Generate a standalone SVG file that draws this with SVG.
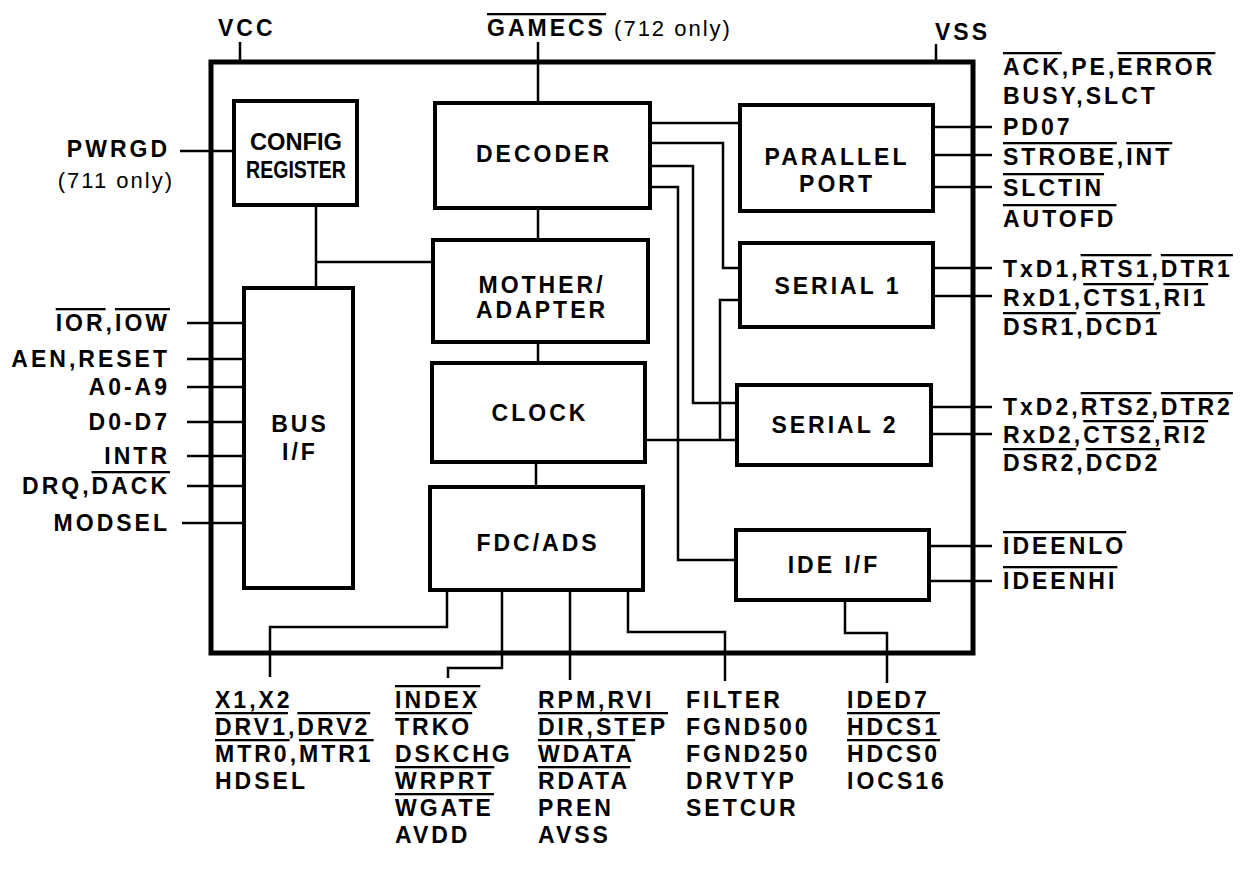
<svg xmlns="http://www.w3.org/2000/svg" width="1240" height="871" viewBox="0 0 1240 871">
<style>
.box{fill:none;stroke:#000;stroke-width:4}
.outer{fill:none;stroke:#000;stroke-width:5}
.w{fill:none;stroke:#000;stroke-width:2.5}
text{font-family:"Liberation Sans",Arial,Helvetica,sans-serif;font-weight:bold;font-size:23px;letter-spacing:3px;fill:#000}
.c{text-anchor:middle}
.e{text-anchor:end}
.n{font-weight:normal;font-size:22px;letter-spacing:2px}
.o{text-decoration:overline}
.k{letter-spacing:0}
</style>
<rect width="1240" height="871" fill="#fff"/>
<rect id="chip" class="outer" x="211" y="62" width="762" height="591"/>

<g id="connectors" class="w">
<path d="M538,42V103"/>
<path d="M240,42V62"/>
<path d="M936,44V62"/>
<path d="M180,151H234"/>
<path d="M187,323H244M187,359H244M187,387H244M187,422H244M187,456H244M187,486H244M182,523H244"/>
<path d="M316,205V288M316,262H433"/>
<path d="M538,208V240M538,342V363M536,462V487"/>
<path d="M650,123H740"/>
<path d="M650,143H723V268H740"/>
<path d="M650,166H693V403H737"/>
<path d="M650,187H678V560H736"/>
<path d="M645,440H737M720,440V300H740"/>
<path d="M933,127H992M933,155H992M933,187H992M933,268H992M933,296H992M931,407H992M931,434H992M929,546H992M929,581H992"/>
<path d="M447,590V627H270V677"/>
<path d="M502,590V668H448V678"/>
<path d="M570,590V680"/>
<path d="M628,590V632H725V681"/>
<path d="M845,600V633H887V683"/>
</g>

<g id="config">
<rect class="box" x="234" y="101" width="123" height="104"/>
<text class="c k" x="296" y="150" textLength="92" lengthAdjust="spacingAndGlyphs">CONFIG</text>
<text class="c k" x="296" y="178" textLength="100" lengthAdjust="spacingAndGlyphs">REGISTER</text>
</g>
<g id="decoder">
<rect class="box" x="435" y="103" width="215" height="105"/>
<text class="c" x="544" y="162">DECODER</text>
</g>
<g id="mother">
<rect class="box" x="433" y="240" width="215" height="102"/>
<text class="c" x="542" y="293">MOTHER/</text>
<text class="c" x="542" y="318">ADAPTER</text>
</g>
<g id="clock">
<rect class="box" x="432" y="363" width="213" height="99"/>
<text class="c" x="540" y="421">CLOCK</text>
</g>
<g id="fdc">
<rect class="box" x="430" y="487" width="213" height="103"/>
<text class="c" x="538" y="551">FDC/ADS</text>
</g>
<g id="parallel">
<rect class="box" x="740" y="105" width="193" height="106"/>
<text class="c" x="837" y="165">PARALLEL</text>
<text class="c" x="837" y="192">PORT</text>
</g>
<g id="serial1">
<rect class="box" x="740" y="243" width="193" height="84"/>
<text class="c" x="838" y="294">SERIAL 1</text>
</g>
<g id="serial2">
<rect class="box" x="737" y="385" width="194" height="80"/>
<text class="c" x="835" y="433">SERIAL 2</text>
</g>
<g id="ide">
<rect class="box" x="736" y="530" width="193" height="70"/>
<text class="c" x="834" y="573">IDE I/F</text>
</g>
<g id="bus">
<rect class="box" x="244" y="288" width="109" height="300"/>
<text class="c" x="300" y="432">BUS</text>
<text class="c" x="300" y="460">I/F</text>
</g>

<g id="pins-top">
<text x="218" y="36">VCC</text>
<text x="487" y="36"><tspan class="o">GAMECS</tspan><tspan class="n"> (712 only)</tspan></text>
<text x="935" y="40">VSS</text>
</g>

<g id="pins-left">
<text class="e" x="170" y="157">PWRGD</text>
<text class="e n" x="174" y="188">(711 only)</text>
<text class="e" x="170" y="331"><tspan class="o">IOR</tspan>,<tspan class="o">IOW</tspan></text>
<text class="e" x="170" y="367">AEN,RESET</text>
<text class="e" x="170" y="395">A0-A9</text>
<text class="e" x="170" y="430">D0-D7</text>
<text class="e" x="170" y="464">INTR</text>
<text class="e" x="170" y="494">DRQ,<tspan class="o">DACK</tspan></text>
<text class="e" x="170" y="531">MODSEL</text>
</g>

<g id="pins-right">
<text x="1003" y="75"><tspan class="o">ACK</tspan>,PE,<tspan class="o">ERROR</tspan></text>
<text x="1003" y="104">BUSY,SLCT</text>
<text x="1003" y="135">PD07</text>
<text x="1003" y="165"><tspan class="o">STROBE</tspan>,<tspan class="o">INT</tspan></text>
<text x="1003" y="196"><tspan class="o">SLCTIN</tspan></text>
<text x="1003" y="227"><tspan class="o">AUTOFD</tspan></text>
<text x="1003" y="277">TxD1,<tspan class="o">RTS1</tspan>,<tspan class="o">DTR1</tspan></text>
<text x="1003" y="306">RxD1,<tspan class="o">CTS1</tspan>,<tspan class="o">RI1</tspan></text>
<text x="1003" y="335"><tspan class="o">DSR1</tspan>,<tspan class="o">DCD1</tspan></text>
<text x="1003" y="415">TxD2,<tspan class="o">RTS2</tspan>,<tspan class="o">DTR2</tspan></text>
<text x="1003" y="443">RxD2,<tspan class="o">CTS2</tspan>,<tspan class="o">RI2</tspan></text>
<text x="1003" y="471"><tspan class="o">DSR2</tspan>,<tspan class="o">DCD2</tspan></text>
<text x="1003" y="554"><tspan class="o">IDEENLO</tspan></text>
<text x="1003" y="589"><tspan class="o">IDEENHI</tspan></text>
</g>

<g id="pins-bottom">
<text x="215" y="708">X1,X2</text>
<text x="215" y="735"><tspan class="o">DRV1</tspan>,<tspan class="o">DRV2</tspan></text>
<text x="215" y="762"><tspan class="o">MTR0</tspan>,<tspan class="o">MTR1</tspan></text>
<text x="215" y="789">HDSEL</text>

<text x="395" y="708"><tspan class="o">INDEX</tspan></text>
<text x="395" y="735"><tspan class="o">TRKO</tspan></text>
<text x="395" y="762">DSKCHG</text>
<text x="395" y="789"><tspan class="o">WRPRT</tspan></text>
<text x="395" y="816"><tspan class="o">WGATE</tspan></text>
<text x="395" y="843">AVDD</text>

<text x="538" y="708">RPM,RVI</text>
<text x="538" y="735"><tspan class="o">DIR,STEP</tspan></text>
<text x="538" y="762"><tspan class="o">WDATA</tspan></text>
<text x="538" y="789"><tspan class="o">RDATA</tspan></text>
<text x="538" y="816">PREN</text>
<text x="538" y="843">AVSS</text>

<text x="686" y="708">FILTER</text>
<text x="686" y="735">FGND500</text>
<text x="686" y="762">FGND250</text>
<text x="686" y="789">DRVTYP</text>
<text x="686" y="816">SETCUR</text>

<text x="847" y="708">IDED7</text>
<text x="847" y="735"><tspan class="o">HDCS1</tspan></text>
<text x="847" y="762"><tspan class="o">HDCS0</tspan></text>
<text x="847" y="789">IOCS16</text>
</g>
</svg>
